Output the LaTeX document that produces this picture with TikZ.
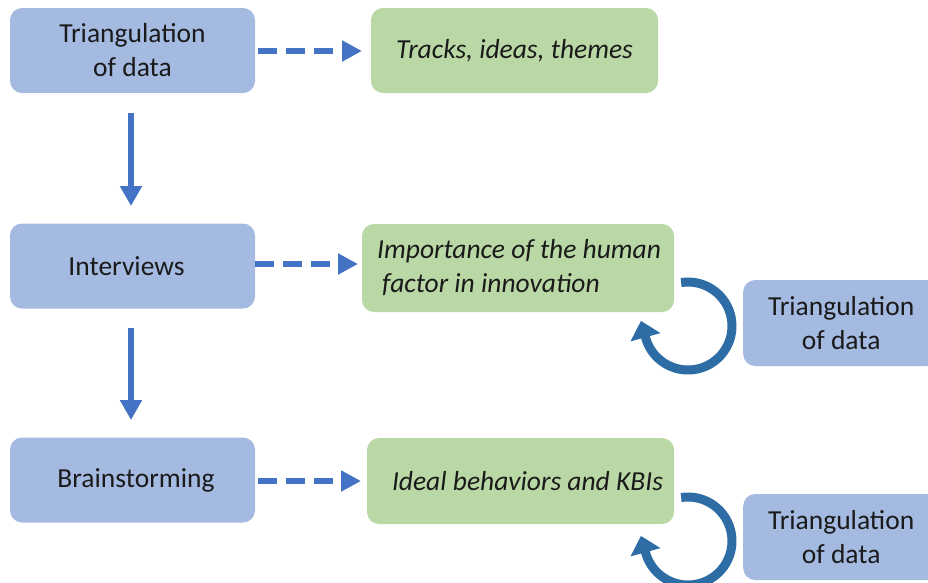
\documentclass[tikz,border=0pt]{standalone}
\usepackage{fontspec}
\setmainfont{Carlito}
\usetikzlibrary{arrows.meta}
\definecolor{boxblue}{HTML}{A4BAE1}
\definecolor{boxgreen}{HTML}{B9D8A5}
\definecolor{arrblue}{HTML}{4472C4}
\definecolor{circblue}{HTML}{2E6CA6}
\definecolor{txt}{HTML}{1A1A1A}
\tikzset{
  bluebox/.style={fill=boxblue, rounded corners=12pt, inner sep=0pt, align=center,
    text=txt, font=\fontsize{27.5}{34}\selectfont},
  greenbox/.style={fill=boxgreen, rounded corners=12pt, inner sep=0pt, align=center,
    text=txt, font=\fontsize{27.5}{34}\selectfont\itshape},
  dasharrow/.style={draw=arrblue, line width=6pt, dash pattern=on 19pt off 9pt,
    -{Triangle[length=20pt,width=20pt]}},
  downarrow/.style={draw=arrblue, line width=6pt, -{Triangle[length=20pt,width=21pt]}},
  circarrow/.style={draw=circblue, line width=9pt, -{Triangle[length=17pt,width=30pt]}}
}
\begin{document}
\begin{tikzpicture}[x=1pt,y=-1pt]
\useasboundingbox (0,0) rectangle (928,582);
% left column
\node[bluebox, minimum width=245pt, minimum height=85pt] (a1) at (132.5,50.5) {Triangulation\\of data};
\node[bluebox, minimum width=245pt, minimum height=85pt] (a2) at (132.5,266) {\hspace*{-12pt}Interviews};
\node[bluebox, minimum width=245pt, minimum height=85pt] (a3) at (132.5,480) {\hspace*{7pt}Brainstorming};
% green column
\node[greenbox, minimum width=287pt, minimum height=85pt] (b1) at (514.5,50.5) {Tracks, ideas, themes};
\node[greenbox, minimum width=312pt, minimum height=88pt] (b2) at (518,268) {};
\node[font=\fontsize{27.5}{34}\selectfont\itshape, text=txt, align=left, anchor=west, inner sep=0pt] (b2t) at (377,268) {Importance of the human\\\hspace*{5pt}factor in innovation};
\node[greenbox, minimum width=307pt, minimum height=86pt] (b3) at (520.5,481) {\hspace*{14pt}Ideal behaviors and KBIs};
% right boxes
\node[bluebox, minimum width=196pt, minimum height=86pt, anchor=west] (t2) at (743,323) {Triangulation\\of data};
\node[bluebox, minimum width=196pt, minimum height=86pt, anchor=west] (t3) at (743,537) {Triangulation\\of data};
% dashed arrows
\coordinate (d1s) at (258,51); \coordinate (d1e) at (362,51);
\coordinate (d2s) at (255,264); \coordinate (d2e) at (358,264);
\coordinate (d3s) at (258,481); \coordinate (d3e) at (361,481);
\draw[dasharrow] (d1s) -- (d1e);
\draw[dasharrow] (d2s) -- (d2e);
\draw[dasharrow] (d3s) -- (d3e);
% vertical arrows
\coordinate (v1s) at (131,113); \coordinate (v1e) at (131,206);
\coordinate (v2s) at (131,328); \coordinate (v2e) at (131,420);
\draw[downarrow] (v1s) -- (v1e);
\draw[downarrow] (v2s) -- (v2e);
% circular arrows
\coordinate (c1) at (688,326);
\coordinate (c2) at (688,541);
\draw[circarrow] ([shift={(-99:44)}]c1) arc[start angle=-99, end angle=163, radius=44] -- ++(-5,-18);
\draw[circarrow] ([shift={(-99:44)}]c2) arc[start angle=-99, end angle=163, radius=44] -- ++(-5,-18);
\end{tikzpicture}
\end{document}
